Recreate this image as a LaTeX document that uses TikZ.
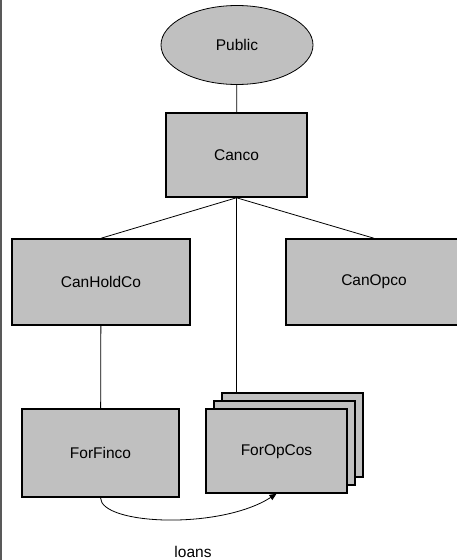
\documentclass[tikz,border=0pt]{standalone}
\usepackage{fontspec}
\setmainfont{Liberation Sans}
\usetikzlibrary{shapes.geometric, arrows.meta}

\definecolor{boxgray}{RGB}{192,192,192}

\begin{document}
\begin{tikzpicture}[
    x=1pt, y=-1pt,
    >=Triangle,
    font=\fontsize{15.5pt}{18pt}\selectfont,
    entity/.style={
        draw,
        fill=boxgray,
        line width=1.5pt,
        rectangle,
        inner sep=0pt
    },
    owner/.style={
        draw,
        fill=boxgray,
        line width=0.8pt,
        ellipse,
        minimum width=152pt,
        minimum height=79pt
    },
    link/.style={line width=0.8pt}
]
\useasboundingbox (0,0) rectangle (456,560);
\draw[gray!70!black, line width=1.5pt] (0.75,0) -- (0.75,560);

% entities
\node[owner] (public) at (237,45) {Public};
\node[entity, minimum width=141pt, minimum height=84pt] (canco) at (236.5,155) {Canco};
\node[entity, minimum width=178pt, minimum height=86pt] (canhold) at (101,282) {CanHoldCo};
\node[entity, minimum width=176pt, minimum height=86pt] (canop) at (374,282) {CanOpco};
\node[entity, minimum width=157pt, minimum height=88pt] (forfin) at (100.5,453) {ForFinco};
% stack of foreign operating companies
\node[entity, minimum width=141pt, minimum height=84pt] (opback) at (292.5,435) {};
\node[entity, minimum width=141pt, minimum height=84pt] (opmid) at (284.5,443) {};
\node[entity, minimum width=141pt, minimum height=84pt] (forop) at (276.5,451) {};
\node (foroplabel) at (forop) [yshift=-1pt] {ForOpCos};
\node (loans) at (193,552) {loans};

% ownership lines
\draw[link] (public) -- (canco);
\draw[link] (canco.south) -- (canhold.north);
\draw[link] (canco.south) -- (canop.north);
\draw[link] (canco.south) -- (canco.south |- opback.north);
\draw[link] (canhold) -- (forfin);
% loan flow
\draw[->, link, >={Triangle[length=7pt,width=6pt]}] (forfin.south) .. controls (101,525) and (220,530) .. (forop.south);
\end{tikzpicture}
\end{document}
